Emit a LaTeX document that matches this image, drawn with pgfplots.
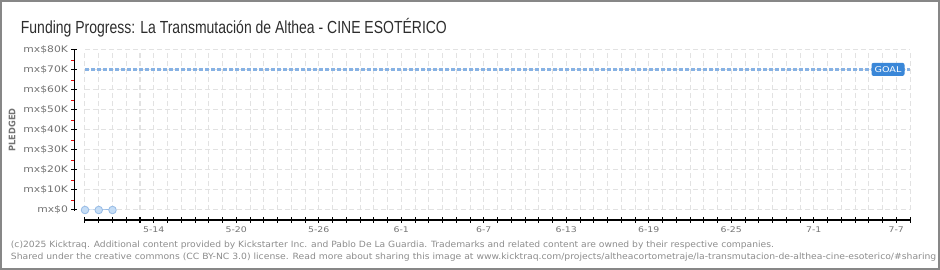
\documentclass[border=0pt]{standalone}
\usepackage{fontspec}
\usepackage{graphicx}
\usepackage{pgfplots}
\pgfplotsset{compat=1.18}
\setmainfont{DejaVu Sans}
\newfontfamily\titlefont{Liberation Sans}

\definecolor{goalblue}{RGB}{58,135,216}
\definecolor{goalline}{RGB}{135,178,228}
\definecolor{ptfill}{RGB}{197,221,246}
\definecolor{ptedge}{RGB}{150,187,230}
\definecolor{gridc}{RGB}{226,226,226}
\definecolor{lbl}{RGB}{115,115,115}
\definecolor{ttl}{RGB}{45,45,45}
\definecolor{foot}{RGB}{140,140,140}
\definecolor{framec}{RGB}{135,135,135}
\definecolor{minred}{RGB}{235,0,0}

\newcommand\sx[1]{\scalebox{1.2}[1]{#1}}

\begin{document}
\begin{tikzpicture}
\useasboundingbox (0pt,0pt) rectangle (940pt,270pt);
\draw[framec, line width=1.6pt] (0.8pt,0.8pt) rectangle (939.2pt,269.2pt);

% title
\node[anchor=base west, inner sep=0, text=ttl] at (20.7pt,236.7pt)
  {\resizebox{426pt}{\height}{\titlefont\fontsize{17.5}{20}\selectfont Funding Progress: La Transmutación de Althea - CINE ESOTÉRICO}};

\begin{axis}[
    at={(85pt,60pt)}, anchor=south west,
    scale only axis, width=825pt, height=160pt,
    xmin=0, xmax=60, ymin=0, ymax=80000,
    clip=false,
    axis x line*=bottom, axis y line*=left,
    axis line style={draw=none},
    scaled y ticks=false,
    xtick={0,...,60},
    xticklabels={,,,,,\sx{5-14},,,,,,\sx{5-20},,,,,,\sx{5-26},,,,,,\sx{6-1},,,,,,\sx{6-7},,,,,,\sx{6-13},,,,,,\sx{6-19},,,,,,\sx{6-25},,,,,,\sx{7-1},,,,,,\sx{7-7},},
    ytick={0,10000,...,80000},
    yticklabels={\sx{mx\$0},\sx{mx\$10K},\sx{mx\$20K},\sx{mx\$30K},\sx{mx\$40K},\sx{mx\$50K},\sx{mx\$60K},\sx{mx\$70K},\sx{mx\$80K}},
    extra y ticks={5000,15000,25000,35000,45000,55000,65000,75000},
    extra y tick labels={},
    extra y tick style={grid=none, major tick length=3.5pt,
      every major y tick/.append style={draw=minred, line width=0.9pt, xshift=-1.75pt}},
    tick align=center,
    major tick length=6pt,
    every tick/.append style={line width=1pt},
    every major x tick/.append style={black, yshift=-10pt},
    every major y tick/.append style={black, xshift=-10.5pt},
    xticklabel style={font=\fontsize{7.8}{9}\selectfont, text=lbl, yshift=-10pt},
    yticklabel style={font=\fontsize{9}{10}\selectfont, text=lbl, xshift=-10.5pt},
    grid=major,
    major grid style={gridc, dash pattern=on 5pt off 3pt, line width=1pt},
]
% goal line
\addplot[goalline, line width=3pt, dash pattern=on 4pt off 2pt] coordinates {(0,70000) (60,70000)};
% pledged
\addplot[ptedge, line width=1pt, mark=*, mark size=3.8pt,
  mark options={fill=ptfill, draw=ptedge, line width=0.8pt, solid}]
  coordinates {(0,0) (1,0) (2,0)};

\node[fill=goalblue, text=white, rounded corners=2pt, minimum width=33pt, minimum height=13pt, inner sep=0pt,
  font=\fontsize{8}{9}\selectfont]
  at (axis cs:58.4,70300) {\scalebox{1.2}[1]{GOAL}};
\end{axis}

% axis lines
\draw[black, line width=1.5pt] (74.5pt,59.3pt) -- (74.5pt,220.7pt);
\draw[black, line width=1.5pt] (85pt,50pt) -- (910.7pt,50pt);

\node[rotate=90, text=lbl, inner sep=0] at (12pt,140pt)
  {\resizebox{43pt}{\height}{\fontsize{9}{10}\selectfont\bfseries PLEDGED}};

% footer
\node[anchor=base west, inner sep=0, text=foot] at (10.7pt,22.5pt)
  {\resizebox{763pt}{\height}{\fontsize{8.6}{10}\selectfont (c)2025 Kicktraq. Additional content provided by Kickstarter Inc. and Pablo De La Guardia. Trademarks and related content are owned by their respective companies.}};
\node[anchor=base west, inner sep=0, text=foot] at (10.7pt,10pt)
  {\scalebox{1.075}[1]{\fontsize{8.6}{10}\selectfont Shared under the creative commons (CC BY-NC 3.0) license. Read more about sharing this image at www.kicktraq.com/projects/altheacortometraje/la-transmutacion-de-althea-cine-esoterico/\#sharing}};
\end{tikzpicture}
\end{document}
